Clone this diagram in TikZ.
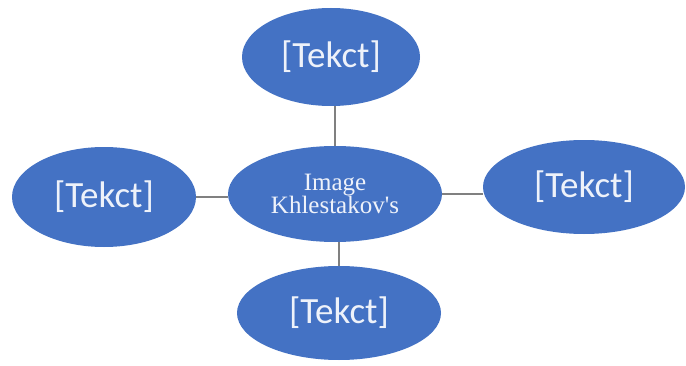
\documentclass[tikz,border=0pt]{standalone}
\usepackage{fontspec}
\setmainfont{Liberation Serif}
\newfontfamily\calib{Carlito}
\usetikzlibrary{shapes.geometric}
\definecolor{ofblue}{HTML}{4472C4}
\definecolor{ofline}{HTML}{808080}
\definecolor{txtw}{HTML}{EEF2FA}
\begin{document}
\begin{tikzpicture}[x=1pt,y=1pt,
  bubble/.style={ellipse,fill=ofblue,draw=none,inner sep=0pt,text=txtw,
    font=\calib\fontsize{37}{39}\selectfont},
  link/.style={draw=ofline,line width=1.1pt}]
\useasboundingbox (0,0) rectangle (686,365);
\fill[white] (0,0) rectangle (686,365);
\node[bubble,minimum width=178pt,minimum height=98pt] (t) at (331,308) {[Tekct]};
\node[bubble,minimum width=184pt,minimum height=100pt] (l) at (104,168) {[Tekct]};
\node[bubble,minimum width=202pt,minimum height=94pt] (r) at (584,178) {[Tekct]};
\node[bubble,minimum width=204pt,minimum height=94pt] (b) at (339,52) {[Tekct]};
\node[bubble,minimum width=214pt,minimum height=96pt,align=center,
  font=\fontsize{25}{20}\selectfont] (c) at (335,171) {Image\\Khlestakov\textquotesingle s};
\draw[link] (c.north) -- (c.north |- t.south);
\draw[link] (l.east) -- (l.east -| c.west);
\draw[link] (c.east) -- (c.east -| r.west);
\draw[link] (b.north) -- (b.north |- c.south);
\end{tikzpicture}
\end{document}
